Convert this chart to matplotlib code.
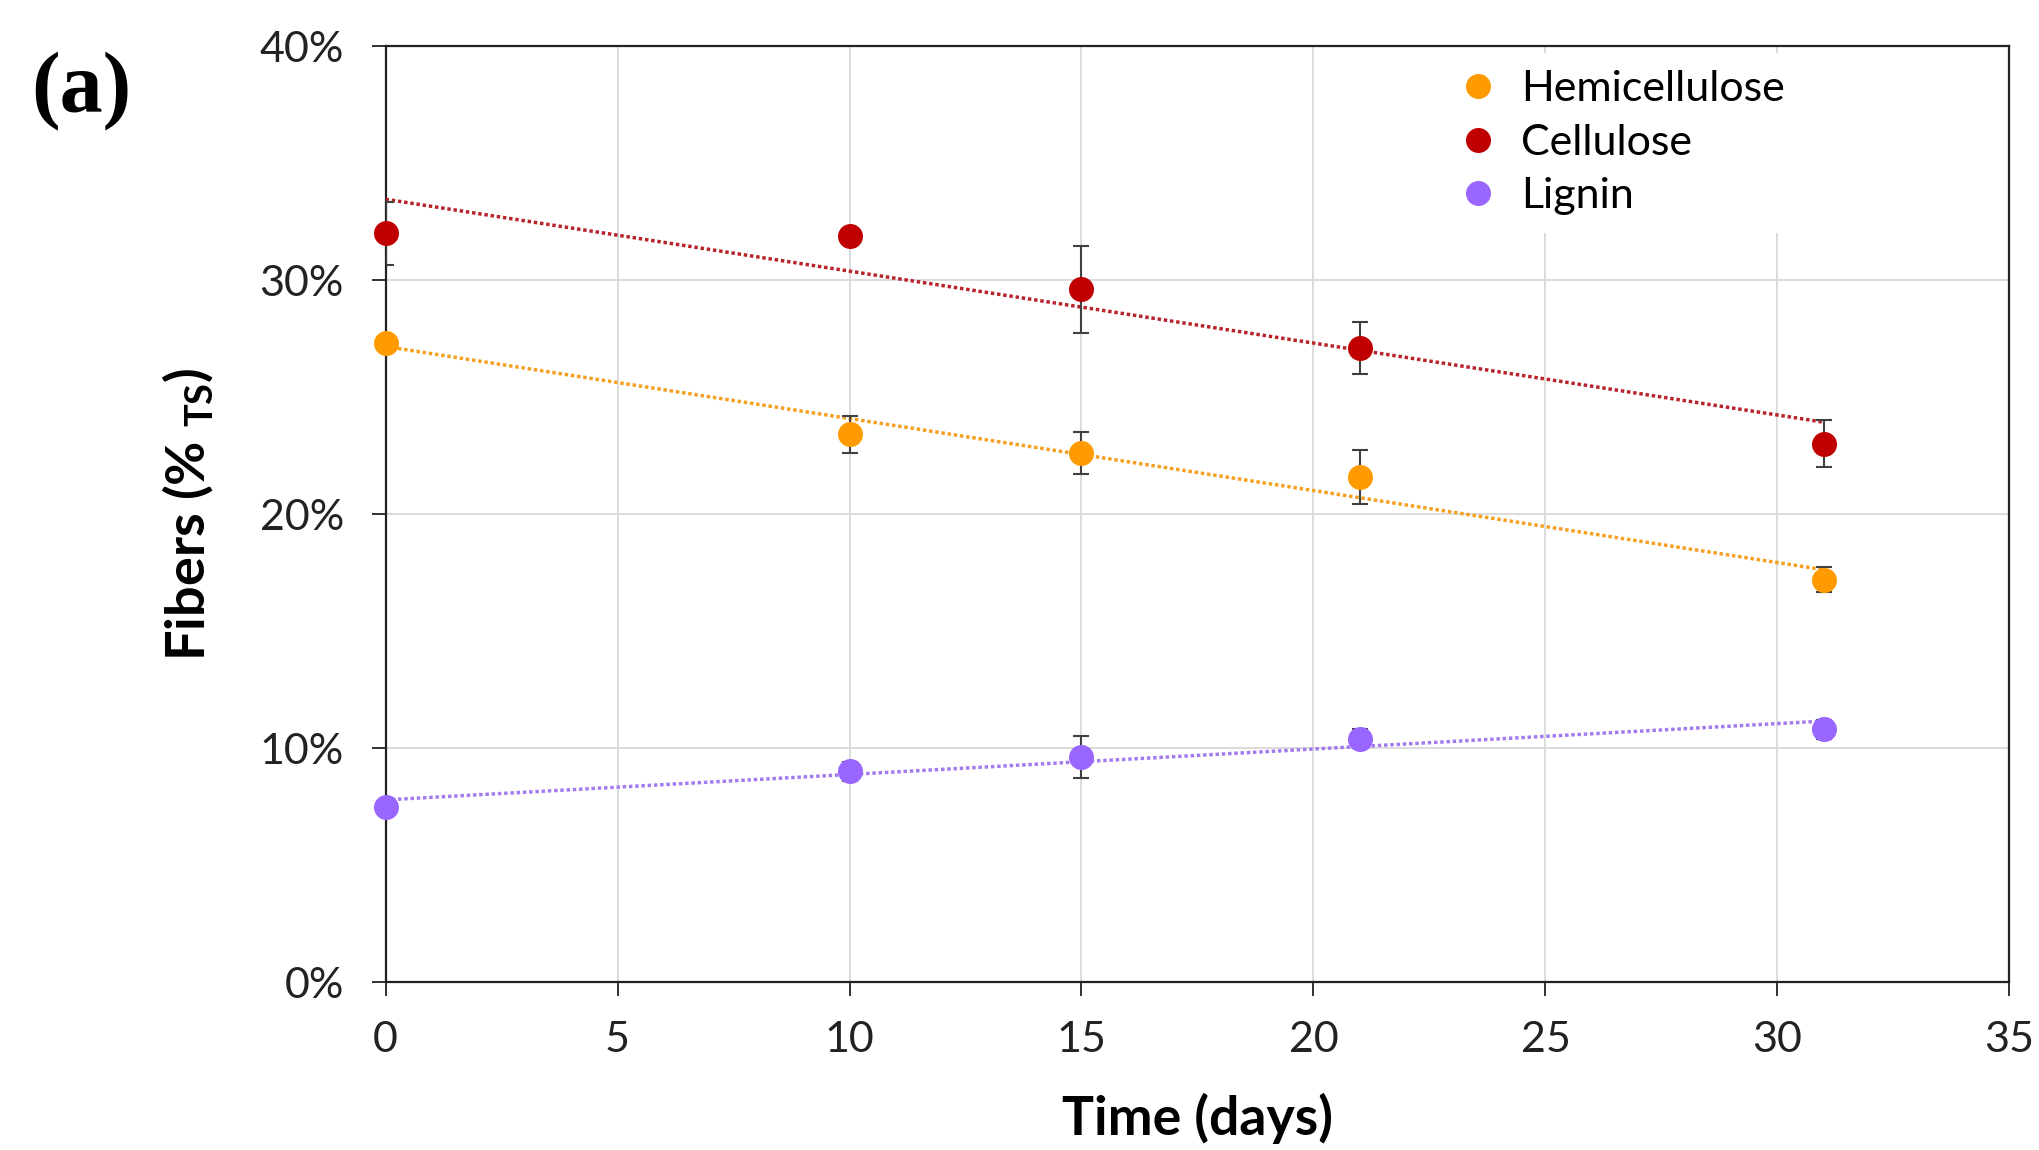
import matplotlib
matplotlib.use("Agg")
import matplotlib.pyplot as plt
import numpy as np
from matplotlib.ticker import FuncFormatter

plt.rcParams['font.family'] = ['Lato', 'DejaVu Sans']
plt.rcParams['mathtext.fontset'] = 'custom'
plt.rcParams['mathtext.rm'] = 'Lato'
plt.rcParams['mathtext.bf'] = 'Lato:bold'

days = [0, 10, 15, 21, 31]
series_names = ["Hemicellulose", "Cellulose", "Lignin"]
hemicellulose = [27.3, 23.4, 22.6, 21.6, 17.2]
hemicellulose_err = [0.3, 0.8, 0.9, 1.15, 0.55]
cellulose = [32.0, 31.9, 29.6, 27.1, 23.0]
cellulose_err = [1.35, 0.3, 1.85, 1.1, 1.0]
lignin = [7.5, 9.0, 9.6, 10.4, 10.8]
lignin_err = [0.2, 0.4, 0.9, 0.4, 0.4]
x_ticks = [0, 5, 10, 15, 20, 25, 30, 35]
y_ticks = [0, 10, 20, 30, 40]

marker_colors = ["#FF9A00", "#C00000", "#9966FF"]
trend_colors = ["#F5A020", "#B8242B", "#A47BEF"]

fig = plt.figure(figsize=(20.4, 11.5), dpi=100)
ax = fig.add_axes([0.189, 0.146, 0.796, 0.814])

data = [(hemicellulose, hemicellulose_err), (cellulose, cellulose_err), (lignin, lignin_err)]
xfit = np.array([days[0], days[-1]], dtype=float)
for (vals, errs), name, mc, tc in zip(data, series_names, marker_colors, trend_colors):
    coef = np.polyfit(days, vals, 1)
    ax.plot(xfit, np.polyval(coef, xfit), linestyle=(0, (1, 0.8)), color=tc, lw=2.5, zorder=3)
    ax.errorbar(days, vals, yerr=errs, fmt='none', ecolor='#404040', elinewidth=1.5,
                capsize=6, capthick=1.5, zorder=4)
    ax.plot(days, vals, 'o', color=mc, markersize=18, markeredgewidth=0, label=name, zorder=5,
            clip_on=False)

ax.set_xlim(0, 35)
ax.set_ylim(0, 40)
ax.set_xticks(x_ticks)
ax.set_yticks(y_ticks)
ax.yaxis.set_major_formatter(FuncFormatter(lambda v, p: f"{int(v)}%"))
ax.grid(True, color='#D9D9D9', lw=1.3)
ax.set_axisbelow(True)
for s in ax.spines.values():
    s.set_color('#222222')
    s.set_linewidth(1.6)
ax.tick_params(axis='x', direction='out', length=10, width=1.3, pad=18, labelsize=31, colors='#222222')
ax.tick_params(axis='y', direction='out', length=10, width=1.3, pad=20, labelsize=31, colors='#222222')

ax.set_xlabel("Time (days)", fontsize=38.5, fontweight='bold', labelpad=24)
ax.set_ylabel(r"Fibers (% $_{\mathbf{TS}}$)", fontsize=39, fontweight='bold', labelpad=31)

leg = ax.legend(loc='upper right', bbox_to_anchor=(0.675, 0.997, 0.2, 0.0), fontsize=31, frameon=True,
                framealpha=1, edgecolor='none', handletextpad=0.4, labelspacing=0.36,
                borderaxespad=0.1, handlelength=1.2)
leg.get_frame().set_linewidth(0)

fig.text(0.040, 0.921, "(a)", fontsize=62, fontweight='bold', family='Liberation Serif',
         ha='center', va='center')

fig.savefig("out.png", dpi=100)
